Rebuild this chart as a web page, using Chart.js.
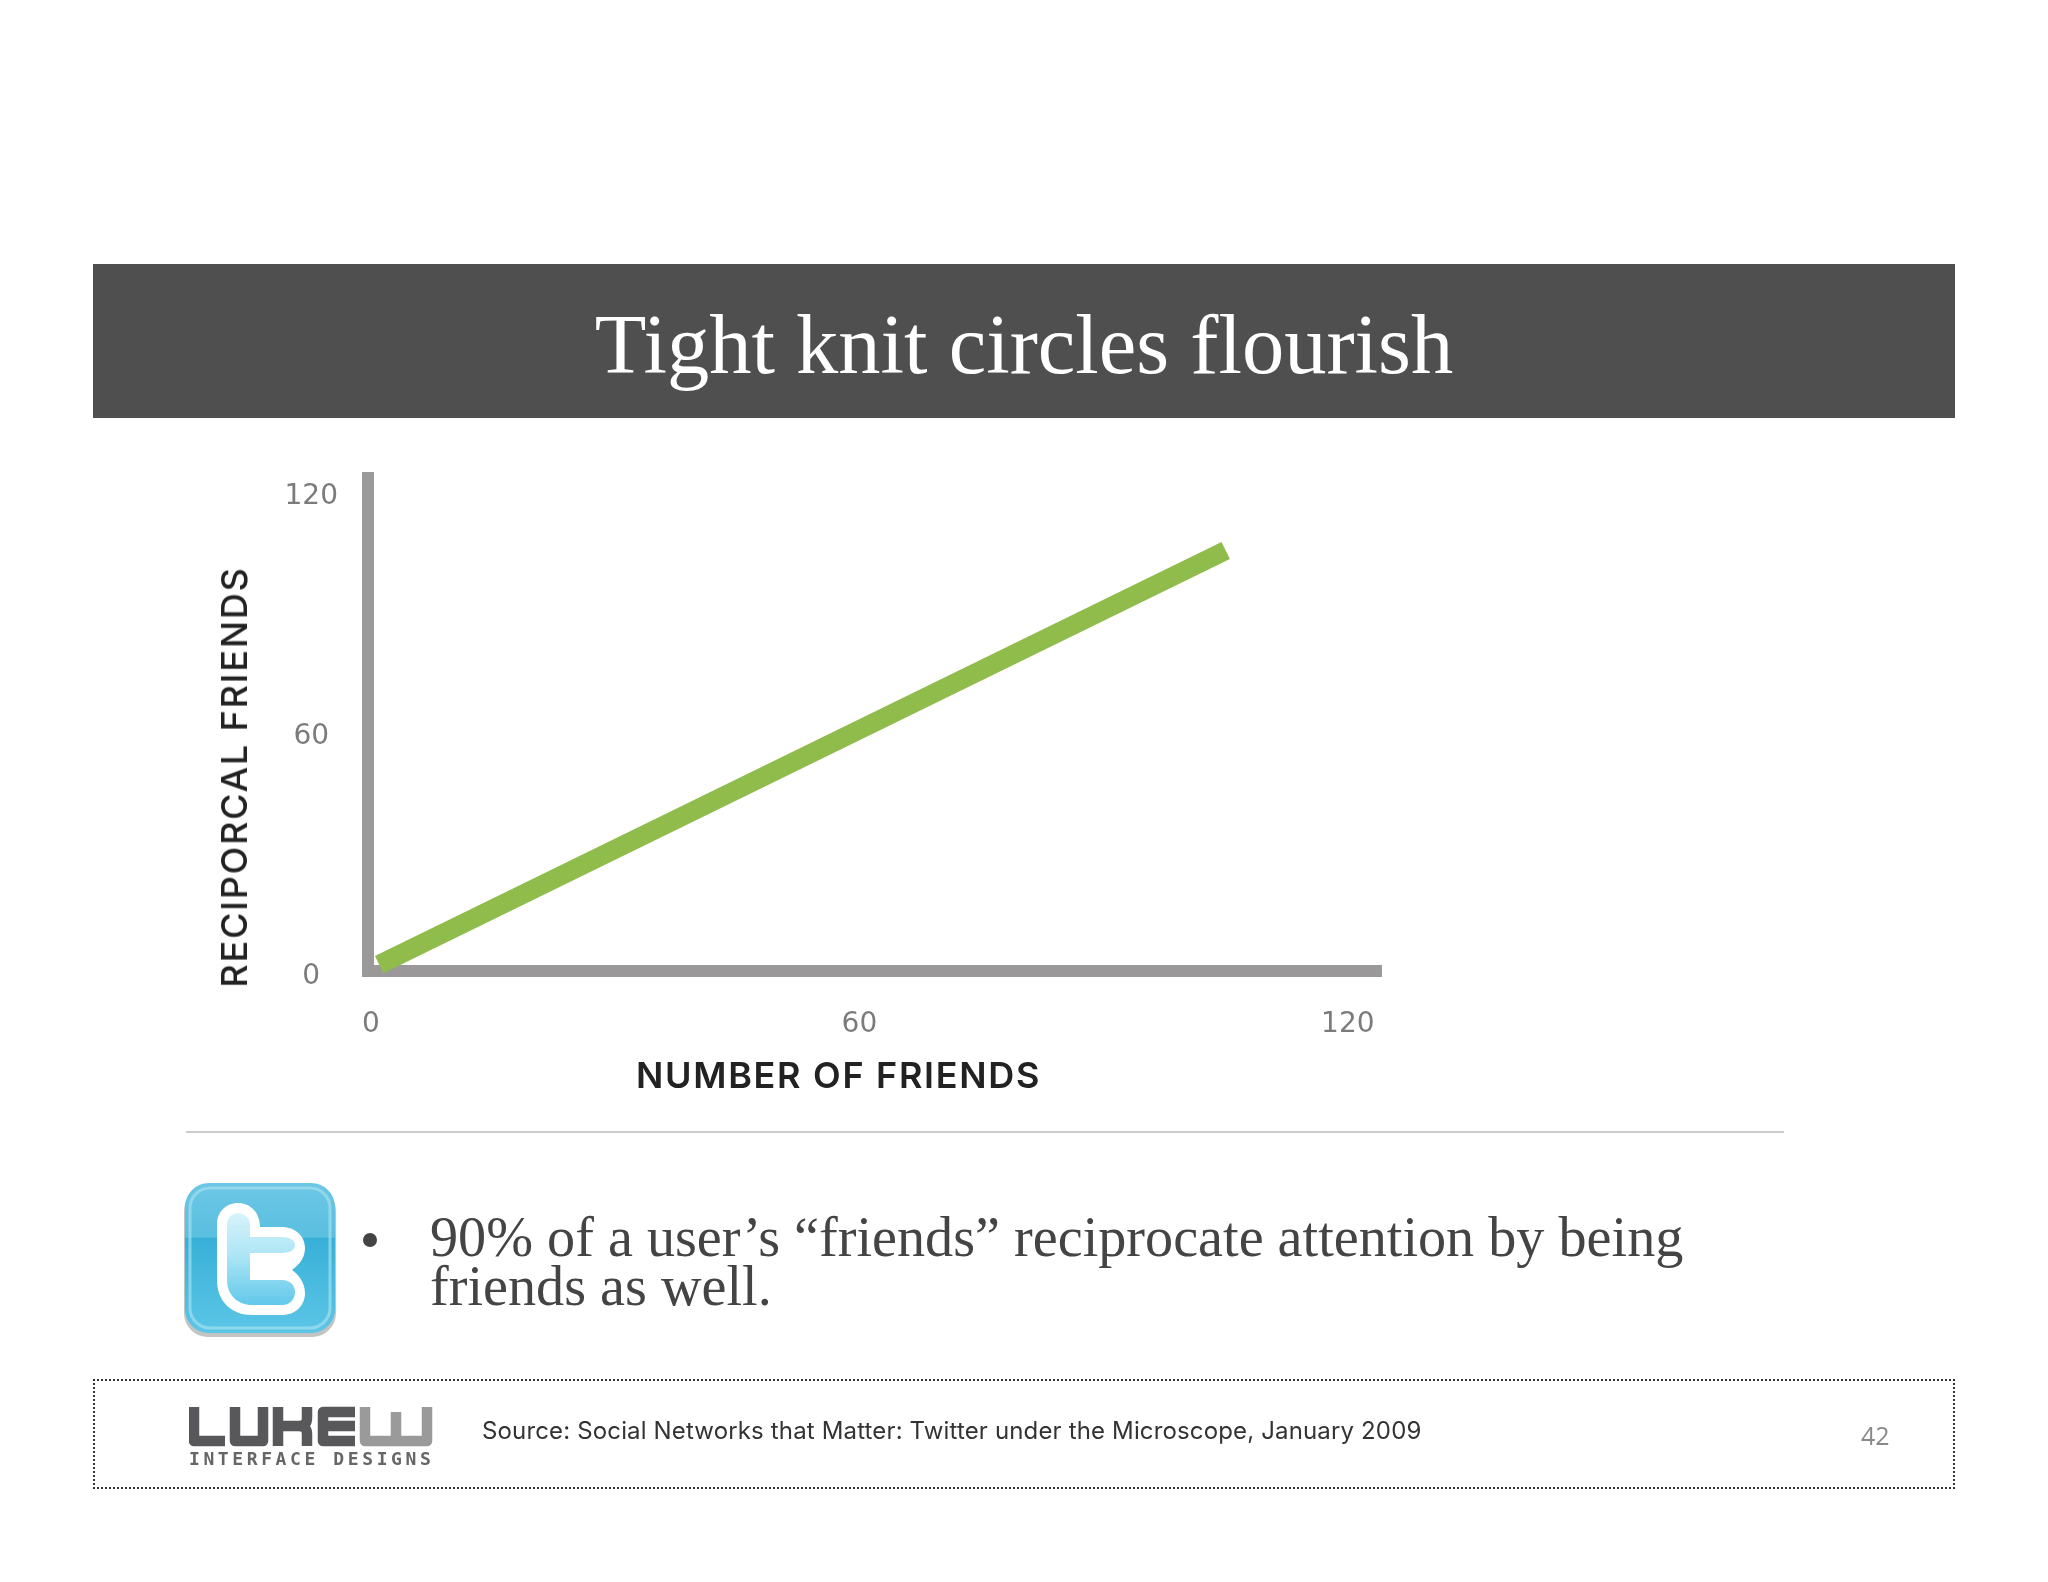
<!DOCTYPE html>
<html>
<head>
<meta charset="utf-8">
<title>Tight knit circles flourish</title>
<script src="https://cdn.jsdelivr.net/npm/chart.js@4"></script>
<style>
  html, body { margin: 0; padding: 0; background: #fff; }
  #slide { position: relative; width: 2048px; height: 1582px; overflow: hidden; background: #fff; }
  #slide div, #slide svg { position: absolute; }
  #header { left: 93px; top: 264px; width: 1862px; height: 154px; background: #4f4f4f; }
  #title { left: 93px; top: 300px; width: 1862px; text-align: center; color: #fff;
    font: 84.5px/90px "Liberation Serif", serif; }
  #chartWrap { left: 0; top: 0; width: 2048px; height: 1582px; }
  .axisTitle { font: 600 36px/40px Inter, sans-serif; color: #222; white-space: nowrap; }
  #xTitle { left: 636px; top: 1055px; letter-spacing: 1.7px; }
  #yTitle { left: 234px; top: 777px; font-weight: 500; letter-spacing: 1.8px; transform: translate(-50%, -50%) rotate(-90deg); }
  #sep { left: 186px; top: 1131px; width: 1598px; height: 2px; background: #ccc; }
  #bullet { left: 363px; top: 1233px; width: 14px; height: 14px; border-radius: 50%; background: #444; }
  .txt { left: 430px; color: #444; font: 56.2px/49px "Liberation Serif", serif; white-space: nowrap; }
  #footer { left: 93px; top: 1379px; width: 1858px; height: 106px; border: 2px dotted #333; }
  #source { left: 482px; top: 1417px; color: #333; font: 24px/28px Inter, sans-serif; letter-spacing: 0.15px; white-space: nowrap; }
  #page { left: 1861px; top: 1421px; color: #888; font: 25px/28px "Open Sans", sans-serif; }
  #logoSub { left: 189px; top: 1449px; color: #666; font: 700 18px/20px "DejaVu Sans Mono", monospace; letter-spacing: 3.6px; white-space: nowrap; }
</style>
</head>
<body>
<div id="slide">
  <div id="header"></div>
  <div id="title">Tight knit circles flourish</div>
  <div id="chartWrap"><canvas id="myChart" width="2048" height="1582"></canvas></div>
  <div id="xTitle" class="axisTitle">NUMBER OF FRIENDS</div>
  <div id="yTitle" class="axisTitle">RECIPORCAL FRIENDS</div>
  <div id="sep"></div>

  <svg style="left:180px;top:1180px" width="162" height="165" viewBox="0 0 162 165">
    <defs>
      <linearGradient id="tw" x1="0" y1="0" x2="0" y2="1">
        <stop offset="0" stop-color="#6cc7e6"/>
        <stop offset="0.36" stop-color="#5bbfe0"/>
        <stop offset="0.37" stop-color="#38b0d8"/>
        <stop offset="1" stop-color="#5cc6e6"/>
      </linearGradient>
      <linearGradient id="twIn" x1="0" y1="0" x2="0" y2="1">
        <stop offset="0" stop-color="#d8f3fb"/>
        <stop offset="0.45" stop-color="#aee6f6"/>
        <stop offset="1" stop-color="#62c8ea"/>
      </linearGradient>
    </defs>
    <rect x="4" y="7" width="152" height="150" rx="24" fill="#888" opacity="0.5"/>
    <rect x="5" y="3" width="150" height="150" rx="24" fill="url(#tw)"/>
    <rect x="10" y="8" width="140" height="140" rx="20" fill="none" stroke="#a4dff0" stroke-width="3" opacity="0.7"/>
    <path d="M58 23C46 23 37 32 37 44V100C37 122 52 135 72 135H102C115 135 125 126 125 113C125 103 119 95 112 90C119 85 125 78 125 68C125 56 115 47 102 47H80C80 32 70 23 58 23Z" fill="#fff"/>
    <path d="M58 33C52 33 47 38 47 44V100C47 115 58 125 72 125H102C110 125 115 119 115 112C115 105 110 100 102 100H70V73H102C110 73 115 70 115 65C115 60 110 57 102 57H70V44C70 38 64 33 58 33Z" fill="url(#twIn)"/>
  </svg>

  <div id="bullet"></div>
  <div class="txt" style="top:1213px">90% of a user’s “friends” reciprocate attention by being</div>
  <div class="txt" style="top:1262px">friends as well.</div>

  <div id="footer"></div>
  <svg style="left:189px;top:1404px" width="246" height="44" viewBox="0 0 246 44">
    <g fill="none" stroke="#58585a" stroke-width="10.5" stroke-linejoin="round">
      <path d="M5 3V37H36"/>
      <path d="M46 3V37H74V3"/>
      <path d="M89 3V42M89 22H110Q118 22 118 14V3M110 22Q118 22 118 30V42"/>
      <path d="M166 8H134V37H166M134 22H166"/>
    </g>
    <path d="M176 3V37H238V3M207 8V37" fill="none" stroke="#9a9a9b" stroke-width="10.5" stroke-linejoin="round"/>
  </svg>
  <div id="logoSub">INTERFACE DESIGNS</div>
  <div id="source">Source: Social Networks that Matter: Twitter under the Microscope, January 2009</div>
  <div id="page">42</div>
</div>

<script>
const xValues = [1, 105];
const yValues = [3, 106.5];
const xTicks = [0, 60, 120];
const yTicks = [0, 60, 120];

const points = xValues.map((x, i) => ({ x: x, y: yValues[i] }));

// axes are thick hand drawn bars in the original, square corner at the origin
const axisBars = {
  id: "axisBars",
  beforeDatasetsDraw(chart) {
    const { ctx, chartArea } = chart;
    ctx.save();
    ctx.strokeStyle = "#9a9899";
    ctx.lineWidth = 12;
    ctx.beginPath();
    ctx.moveTo(chartArea.left, chartArea.top);
    ctx.lineTo(chartArea.left, chartArea.bottom + 6);
    ctx.moveTo(chartArea.left - 6, chartArea.bottom);
    ctx.lineTo(chartArea.right, chartArea.bottom);
    ctx.stroke();
    ctx.restore();
  },
};

const ctx = document.getElementById("myChart").getContext("2d");

new Chart(ctx, {
  type: "scatter",
  data: {
    datasets: [
      {
        data: points,
        showLine: true,
        borderColor: "#8fbc4b",
        borderWidth: 19,
        pointRadius: 0,
        clip: false,
      },
    ],
  },
  options: {
    responsive: false,
    animation: false,
    // scale boxes have a fixed size below, so the plot area lands on the slide's axes
    layout: { padding: { left: 268, top: 472, right: 666, bottom: 511 } },
    plugins: { legend: { display: false }, tooltip: { enabled: false } },
    scales: {
      x: {
        type: "linear",
        min: -0.37,
        max: 124.2,
        afterBuildTicks: (scale) => { scale.ticks = xTicks.map((v) => ({ value: v })); },
        afterFit: (scale) => { scale.height = 100; },
        grid: { display: false },
        border: { display: false },
        ticks: { color: "#7b7b7d", font: { family: "DejaVu Sans", size: 28 }, padding: 29, maxRotation: 0, autoSkip: false },
      },
      y: {
        type: "linear",
        min: 1.4,
        max: 126.1,
        afterBuildTicks: (scale) => { scale.ticks = yTicks.map((v) => ({ value: v })); },
        afterFit: (scale) => { scale.width = 100; },
        grid: { display: false },
        border: { display: false },
        ticks: { color: "#7b7b7d", font: { family: "DejaVu Sans", size: 28 }, padding: 22, crossAlign: "center", autoSkip: false },
      },
    },
  },
  plugins: [axisBars],
});
</script>
</body>
</html>
